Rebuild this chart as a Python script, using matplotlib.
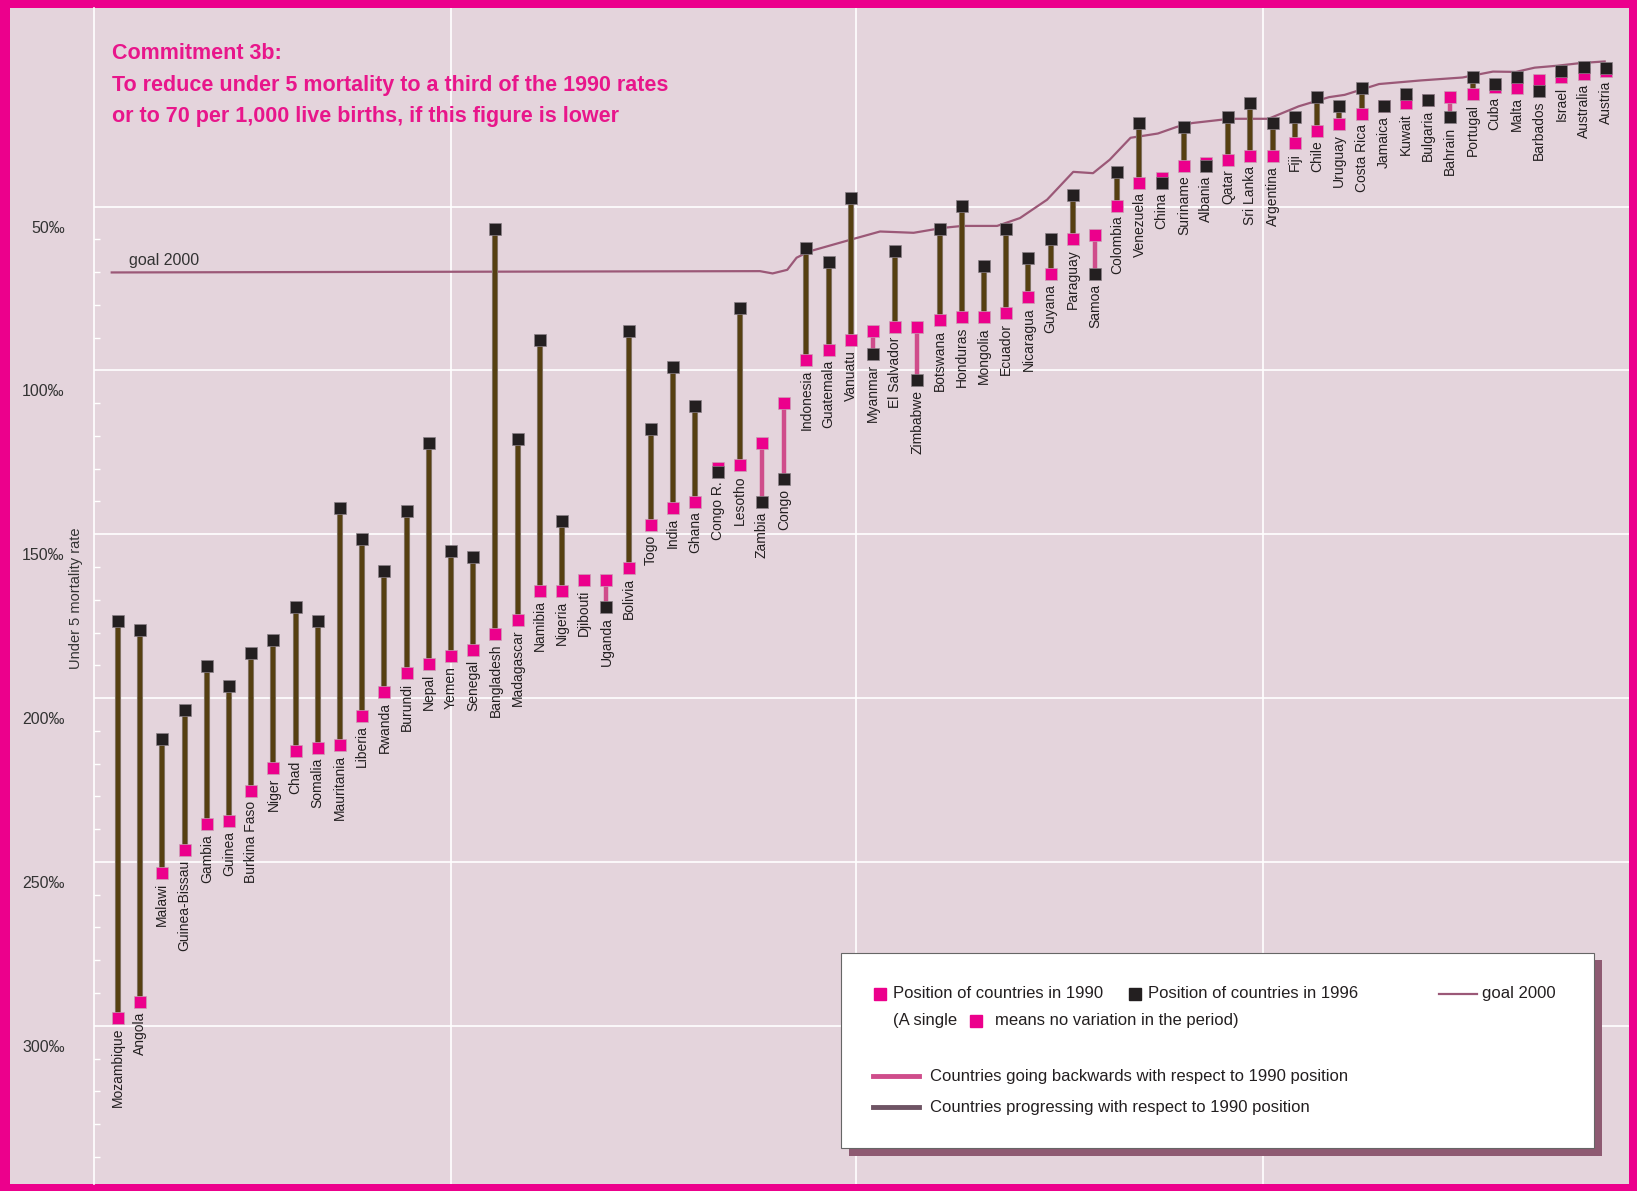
import matplotlib
matplotlib.use("Agg")
import matplotlib.pyplot as plt
import matplotlib.patheffects as pe
import numpy as np
from matplotlib.patches import Rectangle
from matplotlib.lines import Line2D
from matplotlib.ticker import FixedLocator
from matplotlib.transforms import ScaledTranslation

plt.rcParams['font.family'] = ['Liberation Sans', 'DejaVu Sans']

# under 5 mortality rate (per 1,000 live births)
countries = ["Mozambique", "Angola", "Malawi", "Guinea-Bissau", "Gambia", "Guinea",
             "Burkina Faso", "Niger", "Chad", "Somalia", "Mauritania", "Liberia",
             "Rwanda", "Burundi", "Nepal", "Yemen", "Senegal", "Bangladesh",
             "Madagascar", "Namibia", "Nigeria", "Djibouti", "Uganda", "Bolivia",
             "Togo", "India", "Ghana", "Congo R.", "Lesotho", "Zambia", "Congo",
             "Indonesia", "Guatemala", "Vanuatu", "Myanmar", "El Salvador", "Zimbabwe",
             "Botswana", "Honduras", "Mongolia", "Ecuador", "Nicaragua", "Guyana",
             "Paraguay", "Samoa", "Colombia", "Venezuela", "China", "Suriname",
             "Albania", "Qatar", "Sri Lanka", "Argentina", "Fiji", "Chile", "Uruguay",
             "Costa Rica", "Jamaica", "Kuwait", "Bulgaria", "Bahrain", "Portugal",
             "Cuba", "Malta", "Barbados", "Israel", "Australia", "Austria"]

u5mr_1990 = [297.5, 292.7, 253.5, 246.5, 238.5, 237.6, 228.3, 221.3, 216.2, 215.3,
             214.3, 205.4, 198.1, 192.4, 189.5, 187.3, 185.4, 180.3, 176.1, 167.2,
             167.2, 164.0, 164.0, 160.2, 147.1, 142.0, 140.1, 129.9, 129.0, 122.0,
             109.9, 96.8, 93.9, 90.8, 87.9, 86.6, 86.6, 84.7, 83.8, 83.8, 82.5,
             77.7, 70.7, 59.9, 58.6, 49.7, 42.7, 41.4, 37.6, 36.6, 35.7, 34.7,
             34.7, 30.6, 26.8, 24.8, 21.7, 19.4, 18.5, 17.5, 16.6, 15.6, 13.4,
             13.7, 11.5, 10.5, 9.6, 8.6]

u5mr_1996 = [176.4, 179.3, 212.4, 203.5, 190.1, 196.2, 186.3, 182.2, 172.3, 176.4,
             142.0, 151.3, 161.1, 143.0, 122.0, 155.1, 157.0, 56.7, 121.0, 90.8,
             145.9, np.nan, 172.3, 87.9, 117.8, 99.0, 110.8, 130.9, 80.9, 140.1,
             133.1, 62.7, 66.9, 47.5, 94.9, 63.7, 102.9, 56.7, 49.7, 68.2, 56.7,
             65.6, 59.9, 46.5, 70.7, 39.5, 24.5, 42.7, 25.8, 37.6, 22.6, 18.5,
             24.5, 22.6, 16.6, 19.4, 13.7, 19.4, 15.6, 17.5, 22.6, 10.5, 12.7,
             10.5, 14.6, 8.6, 7.3, 7.6]

# goal 2000 curve (position along the country axis, rate)
goal_x = [-0.28, 28.91, 29.48, 30.14, 30.56, 31.12, 33.10, 34.32, 35.83, 37.14,
          38.03, 39.59, 40.62, 41.84, 43.02, 43.91, 44.66, 45.60, 46.83, 47.67,
          48.38, 50.07, 51.81, 53.17, 54.54, 55.24, 56.79, 58.67, 60.55, 61.92,
          62.95, 63.80, 64.83, 65.86, 66.95]
goal_y = [70.1, 69.7, 70.4, 69.3, 65.6, 63.7, 59.9, 57.6, 58.0, 56.5,
          55.9, 55.9, 53.5, 47.9, 39.4, 39.8, 35.7, 29.0, 27.7, 25.7,
          24.5, 23.2, 23.2, 19.4, 16.6, 15.9, 12.6, 11.5, 10.6, 8.8,
          8.9, 7.6, 7.0, 6.2, 5.7]

y_ticks = [50, 100, 150, 200, 250, 300]

title_lines = ["Commitment 3b:",
               "To reduce under 5 mortality to a third of the 1990 rates",
               "or to 70 per 1,000 live births, if this figure is lower"]

BG = "#e4d4dc"
MAGENTA = "#ec008c"
PINK = "#ec008c"
BLACK = "#231f20"
PROGRESS = "#564011"
BACKWARD = "#cf4d8b"
GOAL = "#9b5877"

W, H = 1568, 1141  # reference layout grid


def fx(px):
    return px / W


def fy(py):
    return 1 - py / H


fig = plt.figure(figsize=(16.37, 11.91), dpi=100)
fig.patch.set_facecolor(MAGENTA)
fig.add_artist(Rectangle((fx(10), fy(1134)), fx(1560) - fx(10), fy(8) - fy(1134),
                         transform=fig.transFigure, facecolor=BG, edgecolor="none",
                         zorder=-10))

ax = fig.add_axes([fx(90), fy(1134), fx(1560) - fx(90), fy(8) - fy(1134)])
ax.set_facecolor("none")
ax.set_xlim(-1.08, 68.03)
ax.set_ylim(348.2, -10.5)

# grid
ax.set_yticks(y_ticks)
ax.set_yticklabels([f"{t}‰" for t in y_ticks], fontsize=11.5, color="#333333")
ax.yaxis.set_minor_locator(FixedLocator([t for t in range(60, 350, 10) if t % 50]))
ax.tick_params(axis="y", which="major", length=0, pad=21)
ax.tick_params(axis="y", which="minor", direction="in", length=4, width=1, color="white")
for lab in ax.get_yticklabels():
    lab.set_transform(lab.get_transform() + ScaledTranslation(0, -0.2, fig.dpi_scale_trans))
ax.set_xticks([15.0, 33.24, 51.57])
ax.set_xticklabels([])
ax.tick_params(axis="x", length=0)
ax.grid(True, color="white", lw=1.2)
ax.set_axisbelow(True)
for side in ["top", "right", "bottom"]:
    ax.spines[side].set_visible(False)
ax.spines["left"].set_color("white")
ax.spines["left"].set_linewidth(1.2)

# goal line
ax.plot(goal_x, goal_y, color=GOAL, lw=1.6, zorder=2)
ax.text(0.52, 66.6, "goal 2000", fontsize=11.5, color="#333333", va="center")

x = np.arange(len(countries))
p = np.array(u5mr_1990)
b = np.array(u5mr_1996)
outline = [pe.Stroke(linewidth=4.4, foreground="#8d8079"), pe.Normal()]
for i in range(len(countries)):
    if np.isnan(b[i]):
        continue
    col = BACKWARD if b[i] > p[i] else PROGRESS
    ax.plot([x[i], x[i]], [p[i], b[i]], color=col, lw=3.2, zorder=3,
            solid_capstyle="butt", path_effects=outline if col == PROGRESS else None)

ax.plot(x, p, "s", color=PINK, ms=8, mec="#c9a0b4", mew=0.5, zorder=4)
ax.plot(x, b, "s", color=BLACK, ms=8, mec="#8a8086", mew=0.5, zorder=5)

low = np.fmax(p, np.nan_to_num(b))
for i, name in enumerate(countries):
    ax.annotate(name, (x[i], low[i]), xytext=(0, -7), textcoords="offset points",
                rotation=90, ha="center", va="top", fontsize=10, color="#231f20")

# title and axis label
for line, ty in zip(title_lines, [51, 82, 112]):
    fig.text(fx(107), fy(ty), line, fontsize=15.5, fontweight="bold", color="#e8168b",
             va="center", ha="left")
fig.text(fx(73), fy(573), "Under 5 mortality rate", rotation=90, fontsize=10.5,
         color="#333333", ha="center", va="center")

# legend box
fig.add_artist(Rectangle((fx(813), fy(1107)), fx(1534) - fx(813), fy(920) - fy(1107),
                         transform=fig.transFigure, facecolor="#8e5a72", edgecolor="none"))
fig.add_artist(Rectangle((fx(806), fy(1100)), fx(1527) - fx(806), fy(913) - fy(1100),
                         transform=fig.transFigure, facecolor="white", edgecolor="#666666",
                         lw=0.8))

lg = dict(fontsize=12, color="#231f20", va="center", ha="left")
fig.add_artist(Line2D([fx(843)], [fy(952)], marker="s", ms=9, color=PINK, lw=0,
                      transform=fig.transFigure))
fig.text(fx(855), fy(952), "Position of countries in 1990", **lg)
fig.add_artist(Line2D([fx(1087)], [fy(952)], marker="s", ms=9, color=BLACK, lw=0,
                      transform=fig.transFigure))
fig.text(fx(1100), fy(952), "Position of countries in 1996", **lg)
fig.add_artist(Line2D([fx(1378), fx(1415)], [fy(952), fy(952)], color=GOAL, lw=1.6,
                      transform=fig.transFigure))
fig.text(fx(1420), fy(952), "goal 2000", **lg)
fig.text(fx(855), fy(978), "(A single", **lg)
fig.add_artist(Line2D([fx(935)], [fy(978)], marker="s", ms=9, color=PINK, lw=0,
                      transform=fig.transFigure))
fig.text(fx(953), fy(978), "means no variation in the period)", **lg)
fig.add_artist(Line2D([fx(836), fx(880)], [fy(1031), fy(1031)], color=BACKWARD, lw=3.5,
                      transform=fig.transFigure))
fig.text(fx(891), fy(1031), "Countries going backwards with respect to 1990 position", **lg)
fig.add_artist(Line2D([fx(836), fx(880)], [fy(1061), fy(1061)], color="#6e5464", lw=3.5,
                      transform=fig.transFigure))
fig.text(fx(891), fy(1061), "Countries progressing with respect to 1990 position", **lg)

fig.savefig("out.png", dpi=100, facecolor=fig.get_facecolor())
